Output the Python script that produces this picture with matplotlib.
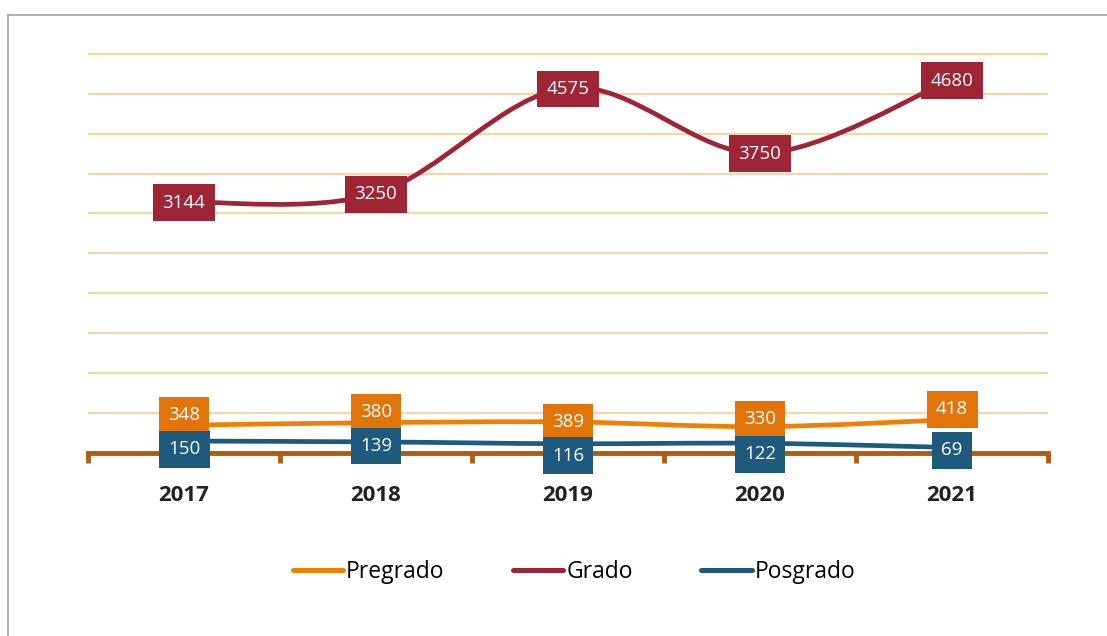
import numpy as np
import matplotlib.pyplot as plt
from matplotlib.path import Path
from matplotlib.patches import PathPatch
from matplotlib.lines import Line2D

plt.rcParams['font.family'] = ['Open Sans', 'DejaVu Sans']

# datos
years = ['2017', '2018', '2019', '2020', '2021']
pregrado = [348, 380, 389, 330, 418]
grado = [3144, 3250, 4575, 3750, 4680]
posgrado = [150, 139, 116, 122, 69]

# desplazamiento vertical de cada etiqueta (puntos)
off_pregrado = [7, 7.5, 0, 5.5, 7.5]
off_grado = [-0.5, -0.5, -1, 0, -1]
off_posgrado = [-6, -3, -8.5, -8, -2]

c_pre_line, c_pre_box = '#F08000', '#E2740A'
c_gra = '#9E2535'
c_pos = '#1D5A7E'


def smooth_path(x, y):
    # linea suavizada tipo Excel (bezier cubico por los puntos)
    px = np.r_[x[0], x, x[-1]]
    py = np.r_[y[0], y, y[-1]]
    verts = [(x[0], y[0])]
    codes = [Path.MOVETO]
    for i in range(len(x) - 1):
        c1 = (px[i + 1] + (px[i + 2] - px[i]) / 6, py[i + 1] + (py[i + 2] - py[i]) / 6)
        c2 = (px[i + 2] - (px[i + 3] - px[i + 1]) / 6, py[i + 2] - (py[i + 3] - py[i + 1]) / 6)
        verts += [c1, c2, (px[i + 2], py[i + 2])]
        codes += [Path.CURVE4] * 3
    return Path(verts, codes)


fig = plt.figure(figsize=(11.07, 6.36), dpi=100)
ax = fig.add_axes([88 / 1107, 1 - 453 / 636, 960 / 1107, 400 / 636])

x = np.arange(len(years), dtype=float)
series = [
    ('Pregrado', pregrado, c_pre_line, c_pre_box, off_pregrado, 3),
    ('Grado', grado, c_gra, c_gra, off_grado, 4),
    ('Posgrado', posgrado, c_pos, c_pos, off_posgrado, 3),
]
handles = []
for name, vals, lc, bc, offs, z in series:
    patch = PathPatch(smooth_path(x, np.array(vals, dtype=float)), fill=False,
                      edgecolor=lc, lw=3.4, capstyle='round', zorder=z, clip_on=False)
    ax.add_patch(patch)
    for xi, v, o in zip(x, vals, offs):
        ax.annotate(str(v), (xi, v), xytext=(0, o), textcoords='offset points',
                    ha='center', va='center', color='white', fontsize=13.5,
                    bbox=dict(boxstyle='square,pad=0.5', fc=bc, ec='none'),
                    zorder=6)
    handles.append(Line2D([0], [0], color=lc, lw=3.6, solid_capstyle='round', label=name))

ax.set_xlim(-0.5, 4.5)
ax.set_ylim(0, 5010)
ax.set_yticks(np.arange(500, 5001, 500))
ax.yaxis.grid(True, color='#FFD39E', lw=1.5)
ax.set_axisbelow(True)
ax.tick_params(axis='y', length=0, labelleft=False)

for s in ['top', 'right', 'left']:
    ax.spines[s].set_visible(False)
ax.spines['bottom'].set_color('#B05D0C')
ax.spines['bottom'].set_linewidth(3.5)
ax.spines['bottom'].set_zorder(2)

ax.set_xticks(x)
ax.set_xticklabels(years, fontsize=16, fontweight='bold', color='#222222')
ax.tick_params(axis='x', which='major', length=0, pad=23)
ax.set_xticks(np.arange(-0.5, 4.6, 1), minor=True)
ax.tick_params(axis='x', which='minor', length=7, width=3.5, color='#B05D0C', direction='out')

fig.legend(handles=handles, loc='center', ncol=3, frameon=False,
           bbox_to_anchor=(574 / 1107, 1 - 572 / 636), fontsize=16.5,
           handlelength=2.2, handletextpad=0.12, columnspacing=3.0)

# marco gris del area del grafico
fig.add_artist(Line2D([7.5 / 1107, 7.5 / 1107], [0, 1 - 15 / 636], color='#A6A6A6', lw=1.2))
fig.add_artist(Line2D([7.5 / 1107, 1], [1 - 15 / 636, 1 - 15 / 636], color='#A6A6A6', lw=1.2))

fig.savefig('out.png', dpi=100)
